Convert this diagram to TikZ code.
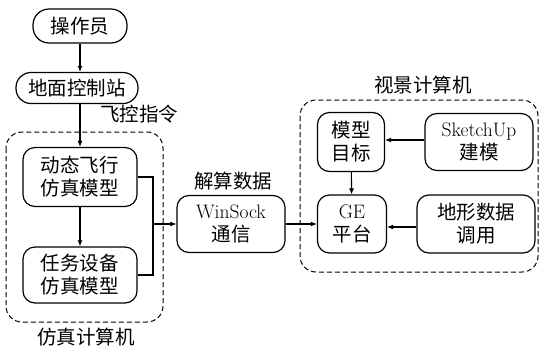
\documentclass[tikz,border=0pt]{standalone}
\usepackage{fontspec}
\newfontfamily\cjk{Noto Sans CJK SC}
\usetikzlibrary{arrows.meta}
\begin{document}
\begin{tikzpicture}[x=1pt,y=-1pt,
  box/.style={draw,line width=1.2pt,rounded corners=12pt,align=center,inner sep=0pt,
    font=\fontsize{19.5}{23}\selectfont},
  grp/.style={draw,line width=1pt,dashed,dash pattern=on 5pt off 3pt,rounded corners=16pt},
  lbl/.style={font=\fontsize{19.5}{23}\selectfont\cjk,inner sep=0pt},
  arr/.style={line width=1.1pt,-{Latex[length=6pt,width=5pt]}},
  ln/.style={line width=1.1pt}]
\useasboundingbox (0,0) rectangle (542,349);
% groups
\draw[grp] (6,132) rectangle (163,322);
\draw[grp] (300,100) rectangle (538,272);
\node[lbl] (simlbl) at (86,337) {仿真计算机};
\node[lbl] (vislbl) at (423,85) {视景计算机};
% nodes
\node[box,minimum width=94pt,minimum height=34pt,rounded corners=16pt] (opr) at (80,26) {\cjk 操作员};
\node[box,minimum width=122pt,minimum height=31pt,rounded corners=15pt] (gcs) at (77,88) {\cjk 地面控制站};
\node[box,minimum width=114pt,minimum height=59pt] (dyn) at (80,177) {\cjk 动态飞行\\\cjk 仿真模型};
\node[box,minimum width=114pt,minimum height=56pt] (task) at (80,275) {\cjk 任务设备\\\cjk 仿真模型};
\node[box,minimum width=108pt,minimum height=57pt] (ws) at (231,224) {WinSock\\\cjk 通信};
\node[box,minimum width=67pt,minimum height=59pt] (mdl) at (351,142) {\cjk 模型\\\cjk 目标};
\node[box,minimum width=108pt,minimum height=57pt] (sku) at (479,142) {SketchUp\\\cjk 建模};
\node[box,minimum width=69pt,minimum height=58pt] (ge) at (352,224) {GE\\\cjk 平台};
\node[box,minimum width=118pt,minimum height=58pt] (ter) at (476,224) {\cjk 地形数据\\\cjk 调用};
% labels
\node[lbl] (fk) at (139,114) {飞控指令};
\node[lbl] (js) at (233,181) {解算数据};
% junction
\coordinate (j) at (153,224);
% connectors
\draw[arr] (opr.south -| 80,0) -- (gcs.north -| 80,0);
\draw[arr] (gcs.south -| 80,0) -- (dyn.north);
\draw[arr] (dyn) -- (task);
\draw[ln] (dyn.east) -| (j);
\draw[ln] (task.east) -| (j);
\draw[arr] (j) -- (ws.west);
\draw[arr] (ws.east) -- (ge.west);
\draw[arr] (sku.west |- 0,140) -- (mdl.east |- 0,140);
\draw[arr] (mdl) -- (ge);
\draw[arr] (ter.west |- 0,227) -- (ge.east |- 0,227);
\end{tikzpicture}
\end{document}
